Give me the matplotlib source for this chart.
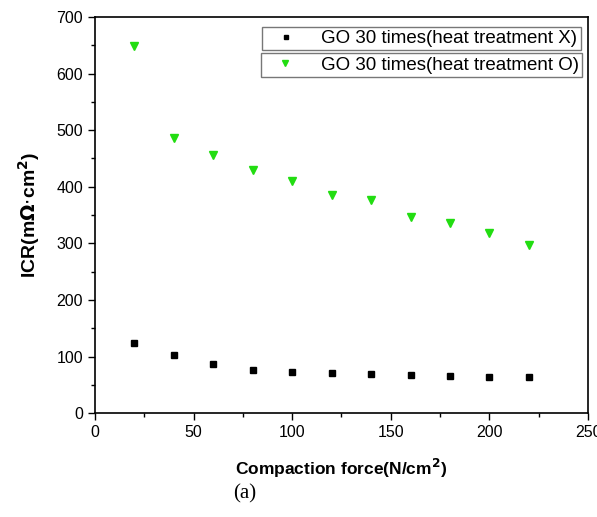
import numpy as np
import matplotlib.pyplot as plt
from matplotlib.ticker import MultipleLocator

# Dados
forca = [20, 40, 60, 80, 100, 120, 140, 160, 180, 200, 220]
icr_sem_tt = [124, 103, 86, 77, 73, 70, 69, 68, 65, 64, 64]
icr_com_tt = [648, 486, 457, 429, 410, 385, 376, 347, 336, 319, 297]

rotulo_x = 'GO 30 times(heat treatment X)'
rotulo_o = 'GO 30 times(heat treatment O)'

plt.rcParams['font.family'] = ['Liberation Sans', 'DejaVu Sans']

fig = plt.figure(figsize=(5.97, 5.17), dpi=100)
ax = fig.add_axes([0.159, 0.201, 0.826, 0.766])

l1, = ax.plot(forca, icr_sem_tt, linestyle='none', marker='s', markersize=4,
              color='black', label=rotulo_x)
l2, = ax.plot(forca, icr_com_tt, linestyle='none', marker='v', markersize=5.5,
              color='#22dd11', label=rotulo_o)

ax.set_xlim(0, 250)
ax.set_ylim(0, 700)
ax.xaxis.set_major_locator(MultipleLocator(50))
ax.xaxis.set_minor_locator(MultipleLocator(25))
ax.yaxis.set_major_locator(MultipleLocator(100))
ax.yaxis.set_minor_locator(MultipleLocator(50))
ax.tick_params(which='major', direction='out', length=5, width=1, labelsize=11.5)
ax.tick_params(which='minor', direction='out', length=3, width=1)
for s in ax.spines.values():
    s.set_linewidth(1.2)

ax.set_xlabel('Compaction force(N/cm$^\\mathbf{2}$)', fontsize=12.5,
              fontweight='bold', labelpad=12)
ax.set_ylabel('ICR(m$\\mathbf{\\Omega}$$\\cdot$cm$^\\mathbf{2}$)', fontsize=14,
              fontweight='bold', labelpad=10)

# Legendas em caixas separadas
leg1 = ax.legend(handles=[l1], loc='upper right', bbox_to_anchor=(0.985, 0.976),
                 fontsize=13.5, frameon=True, fancybox=False, edgecolor='#555555',
                 borderpad=0.18, handletextpad=0.8, handlelength=2.2, borderaxespad=0,
                 markerscale=0.8)
leg1.get_frame().set_linewidth(1)
ax.add_artist(leg1)
leg2 = ax.legend(handles=[l2], loc='upper right', bbox_to_anchor=(0.988, 0.909),
                 fontsize=13.5, frameon=True, fancybox=False, edgecolor='#555555',
                 borderpad=0.18, handletextpad=0.8, handlelength=2.2, borderaxespad=0,
                 markerscale=0.8)
leg2.get_frame().set_linewidth(1)

fig.text(0.41, 0.035, '(a)', fontsize=15, family='Liberation Serif', ha='center')

fig.savefig('out.png', dpi=100)
